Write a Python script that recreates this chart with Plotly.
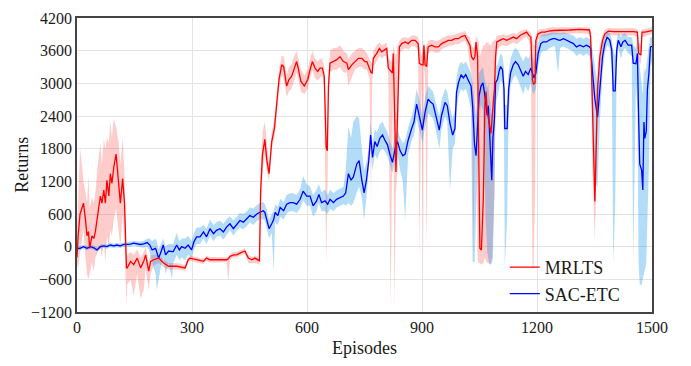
import plotly.graph_objects as go

# MRLTS: episode, mean return, lower / upper band
mrlts_ep = [
    0, 3, 8, 13, 17, 22, 26, 30, 33, 39,
    44, 48, 54, 61, 65, 70, 74, 78, 83, 87,
    91, 96, 102, 109, 113, 119, 124, 129, 131, 140,
    148, 157, 166, 174, 179, 187, 192, 200, 213, 226,
    239, 261, 282, 290, 295, 312, 330, 338, 347, 373,
    390, 395, 399, 408, 417, 425, 438, 447, 456, 464,
    476, 479, 484, 490, 495, 501, 508, 515, 521, 527,
    534, 539, 547, 553, 560, 564, 573, 578, 584, 593,
    602, 608, 614, 621, 628, 634, 640, 645, 650, 653,
    656, 660, 669, 677, 686, 695, 704, 708, 717, 725,
    734, 743, 751, 756, 763, 767, 770, 773, 782, 789,
    795, 801, 808, 812, 818, 823, 825, 828, 832, 837,
    841, 847, 856, 864, 873, 882, 890, 893, 899, 903,
    905, 908, 912, 916, 925, 934, 943, 951, 960, 969,
    977, 986, 995, 1003, 1012, 1019, 1025, 1029, 1034, 1038,
    1041, 1045, 1047, 1051, 1055, 1060, 1064, 1067, 1070, 1073,
    1077, 1080, 1083, 1089, 1092, 1095, 1103, 1112, 1121, 1130,
    1138, 1147, 1156, 1164, 1173, 1179, 1184, 1188, 1191, 1195,
    1197, 1203, 1212, 1221, 1230, 1243, 1260, 1286, 1312, 1337,
    1340, 1344, 1349, 1351, 1355, 1358, 1364, 1371, 1377, 1386,
    1399, 1417, 1434, 1451, 1462, 1465, 1471, 1474, 1482, 1491,
    1500,
]
mrlts_mean = [
    -200, 200, 600, 700, 800, 500, 200, 280, -30, 200,
    150, 280, 570, 930, 800, 1040, 800, 1220, 930, 1340,
    1160, 1460, 1700, 1150, 800, 1250, 800, -390, -390, -270,
    -330, -210, -390, -270, -150, -450, -270, -240, -210, -300,
    -360, -360, -390, -240, -210, -240, -270, -210, -240, -240,
    -240, -220, -180, -150, -150, -120, -80, -210, -240, -210,
    -260, 1000, 1700, 1970, 1600, 1340, 1930, 2170, 2590, 3070,
    3340, 3310, 2950, 3070, 3130, 3220, 3400, 3250, 3040, 2950,
    3070, 3250, 3400, 3280, 3220, 3280, 3280, 3130, 1820, 1760,
    2950, 3370, 3400, 3430, 3490, 3400, 3370, 3250, 3340, 3400,
    3460, 3460, 3400, 3400, 3280, 3200, 3190, 3460, 3550, 3640,
    3580, 3610, 3640, 3280, 3220, 3190, 3550, 2610, 1370, 2610,
    3670, 3730, 3760, 3730, 3790, 3790, 3730, 3370, 3340, 3340,
    3700, 3340, 3310, 3670, 3700, 3670, 3670, 3730, 3760, 3790,
    3790, 3820, 3820, 3860, 3880, 3790, 3700, 3490, 3430, 3490,
    3760, 3490, 2030, -30, -60, 900, 2610, 2850, 2490, 2370,
    2190, 2080, 2370, 2910, 3490, 3760, 3790, 3820, 3790, 3820,
    3850, 3820, 3880, 3910, 3940, 3880, 3850, 3070, 2980, 3010,
    3790, 3910, 3940, 3940, 3960, 3970, 3970, 3980, 3990, 3980,
    3850, 2610, 1040, 830, 1990, 2910, 3490, 3790, 3910, 3960,
    3950, 3950, 3960, 3950, 3940, 3550, 3520, 3940, 3940, 3960,
    3970,
]
mrlts_lo = [
    -300, -400, -100, 100, 300, -200, -500, -600, -500, -300,
    -450, -200, -100, 0, -200, 100, -300, 200, 0, 300,
    200, 500, 700, 200, 0, 600, 100, -1100, -700, -600,
    -900, -500, -950, -800, -400, -800, -500, -350, -300, -380,
    -420, -420, -440, -300, -260, -290, -320, -260, -290, -290,
    -280, -650, -250, -200, -200, -170, -130, -300, -300, -300,
    -330, 700, 1400, 1700, 1400, 1200, 1800, 2000, 2400, 2900,
    3150, 3100, 2750, 2850, 2900, 3000, 3200, 3050, 2850, 2800,
    2900, 3100, 3250, 3100, 3050, 3100, 3150, 2900, -330, 800,
    2700, 3200, 3250, 3250, 3300, 3200, 3200, 2950, 3100, 3250,
    3300, 3300, 3250, 3250, 3100, 800, 3000, 3300, 3400, 3500,
    3450, 3500, 3500, 3100, -1100, 2900, 3350, -1150, 1000, 1500,
    3550, 3600, 3650, 3620, 3680, 3680, 3600, -200, 3100, -200,
    3300, 3100, -100, 3550, 3600, 3560, 3560, 3620, 3660, 3690,
    3690, 3720, 3720, 3760, 3780, 3680, 3300, 3200, -100, 2000,
    3500, -200, -300, -300, -330, -300, -200, -250, -300, -300,
    -330, -300, -200, 1000, 3000, 3600, 3680, 3700, 3680, 3720,
    3750, 3720, 3780, 3820, 3850, 3780, 3700, -400, -400, 1000,
    3600, 3800, 3860, 3860, 3880, 3900, 3900, 3910, 3920, 3900,
    3600, 1500, 100, 90, 1300, 2400, 3200, 3600, 3820, 3890,
    3880, 3880, 3890, 3880, 3850, 3400, 3350, 3850, 3860, 3890,
    3900,
]
mrlts_hi = [
    300, 1000, 1800, 1500, 1200, 1000, 800, 1300, 700, 900,
    800, 1000, 1500, 1900, 1500, 2000, 1800, 2000, 1900, 2300,
    2000, 2350, 2200, 1900, 1500, 2000, 1300, -200, -150, -100,
    -150, -50, -200, -100, 0, -300, -150, -150, -150, -230,
    -300, -300, -340, -190, -160, -190, -220, -160, -190, -190,
    -200, -180, -130, -100, -100, -70, -30, -150, -190, -160,
    -200, 1400, 2100, 2300, 1900, 1500, 2100, 2350, 2800, 3250,
    3500, 3500, 3150, 3300, 3350, 3450, 3600, 3450, 3250, 3150,
    3250, 3450, 3600, 3450, 3400, 3450, 3450, 3300, 2100, 2000,
    3150, 3600, 3650, 3650, 3700, 3600, 3550, 3450, 3550, 3600,
    3650, 3650, 3600, 3550, 3450, 3400, 3350, 3600, 3700, 3750,
    3700, 3720, 3750, 3500, 3400, 3400, 3700, 3600, 3500, 3700,
    3780, 3830, 3850, 3830, 3880, 3880, 3850, 3700, 3500, 3700,
    3800, 3600, 3700, 3780, 3800, 3780, 3780, 3830, 3860, 3880,
    3880, 3900, 3910, 3940, 3960, 3880, 3850, 3700, 3650, 3700,
    3880, 3800, 3800, 3500, 3600, 3700, 3700, 3750, 3750, 3750,
    3700, 3700, 3750, 3800, 3800, 3880, 3880, 3900, 3880, 3900,
    3930, 3900, 3960, 3980, 4000, 3960, 3930, 3800, 3700, 3700,
    3900, 3980, 4000, 4000, 4020, 4030, 4030, 4040, 4040, 4030,
    3950, 3300, 2000, 1500, 2600, 3300, 3700, 3900, 3980, 4020,
    4010, 4010, 4020, 4010, 4000, 3750, 3700, 4000, 4000, 4020,
    4030,
]

# SAC-ETC: episode, mean return, lower / upper band
sac_ep = [
    0, 8, 17, 26, 35, 44, 52, 61, 70, 78,
    87, 96, 104, 113, 122, 130, 139, 148, 157, 165,
    174, 183, 190, 196, 205, 208, 213, 218, 225, 231,
    239, 248, 251, 260, 267, 273, 282, 290, 299, 305,
    312, 321, 330, 338, 347, 356, 364, 373, 382, 390,
    399, 408, 417, 425, 434, 443, 451, 460, 469, 477,
    486, 490, 495, 501, 508, 513, 517, 524, 530, 539,
    547, 556, 564, 573, 582, 590, 599, 608, 616, 625,
    631, 638, 647, 654, 660, 669, 677, 686, 695, 701,
    708, 715, 721, 730, 736, 743, 749, 755, 761, 766,
    771, 777, 783, 790, 797, 803, 810, 816, 823, 830,
    836, 843, 850, 856, 864, 873, 879, 886, 893, 901,
    908, 916, 923, 929, 936, 945, 951, 960, 966, 973,
    980, 986, 990, 995, 1002, 1008, 1014, 1021, 1028, 1032,
    1037, 1041, 1045, 1049, 1054, 1059, 1063, 1066, 1070, 1073,
    1075, 1079, 1082, 1085, 1089, 1092, 1097, 1101, 1105, 1110,
    1114, 1116, 1122, 1126, 1131, 1138, 1144, 1151, 1158, 1164,
    1170, 1177, 1184, 1188, 1192, 1197, 1203, 1210, 1216, 1225,
    1233, 1242, 1247, 1255, 1260, 1269, 1277, 1286, 1295, 1303,
    1312, 1321, 1329, 1337, 1340, 1345, 1351, 1358, 1364, 1371,
    1377, 1383, 1390, 1395, 1399, 1404, 1408, 1412, 1419, 1424,
    1430, 1438, 1447, 1451, 1458, 1462, 1465, 1468, 1473, 1476,
    1479, 1481, 1485, 1488, 1492, 1496, 1500,
]
sac_mean = [
    -30, -30, 0, -30, 0, -20, -60, 0, 15, 0,
    30, 15, 30, 15, 40, 40, 45, 65, 50, 40,
    50, 75, 30, -60, -30, -100, -210, -120, 30, -150,
    -80, -90, -90, 30, -60, 0, -30, 30, -60, 90,
    180, 180, 270, 180, 330, 240, 300, 330, 270, 360,
    420, 330, 420, 480, 450, 510, 570, 540, 600, 630,
    660, 630, 510, 330, 420, 500, 630, 570, 720, 660,
    780, 810, 810, 780, 870, 1020, 930, 930, 750, 840,
    960, 810, 840, 780, 870, 810, 870, 900, 930, 990,
    1340, 1220, 1280, 1520, 1580, 1220, 990, 1220, 1580, 2050,
    1640, 1930, 1840, 1990, 2050, 1960, 1870, 1700, 1550, 1810,
    1930, 1760, 1670, 1700, 1960, 2170, 2290, 2620, 2410, 2140,
    2470, 2710, 2650, 2620, 2410, 2140, 2410, 2650, 2590, 2260,
    2050, 2170, 2830, 3010, 3160, 3100, 3160, 3040, 2950, 2590,
    1880, 1670, 2170, 2770, 2950, 3010, 2830, 2590, 2410, 2590,
    2230, 1760, 1220, 1990, 2350, 3010, 3070, 3220, 3310, 3250,
    2890, 2170, 2170, 2890, 3190, 3340, 3400, 3340, 3220, 3130,
    3220, 3160, 3280, 3160, 3100, 3190, 3550, 3730, 3760, 3760,
    3800, 3820, 3820, 3800, 3790, 3820, 3790, 3760, 3730, 3670,
    3700, 3670, 3700, 3670, 3640, 3190, 2710, 2380, 2890, 3490,
    3730, 3850, 3790, 3610, 2860, 2860, 3610, 3790, 3670, 3760,
    3790, 3700, 3700, 3370, 3360, 3550, 2410, 1520, 1400, 1040,
    2290, 1990, 2110, 2890, 3190, 3670, 3680,
]
sac_lo = [
    -60, -70, -40, -70, -40, -60, -100, -40, -25, -40,
    -10, -25, -10, -25, 0, 0, 0, 20, 0, -10,
    -20, 0, -100, -300, -500, -800, -600, -400, -200, -500,
    -300, -600, -300, -150, -250, -200, -250, -150, -200, -50,
    50, 50, 150, 50, 200, 100, 180, 200, 130, 220,
    300, 200, 300, 350, 320, 380, 450, 400, 470, 500,
    500, 480, 350, 150, 250, -450, 450, 400, 550, 500,
    620, 650, 650, 620, 700, 850, 750, 750, 550, 650,
    800, 650, 650, 600, 700, 650, 720, 750, 780, 750,
    800, 750, 800, 1000, 1100, 900, 500, 900, 1350, 1800,
    1400, 1700, 1600, 1750, 1800, 1750, 1650, 1500, 1350, 1600,
    1700, 1400, 1200, 500, 1700, 1950, 2050, 2350, 2150, 1900,
    2200, 2450, 2400, 2350, 2150, 1800, 2150, 2400, 2300, 1040,
    1800, 1900, 2500, 2750, 2900, 2850, 2900, 2750, 2500, -270,
    -300, 500, 1500, 2300, 2600, 2500, 1500, 500, -100, -250,
    -300, -330, -300, -200, 1000, 2600, 2800, 2950, 3050, 3000,
    2000, -390, 500, 2400, 2950, 3100, 3150, 3050, 2900, 2800,
    2950, 2850, 3000, 2850, 2800, 2900, 3300, 3550, 3600, 3600,
    3650, 3680, 3680, 3180, 3650, 3680, 3650, 3620, 3580, 3500,
    3550, 3500, 3550, 3500, 3400, 2500, 1200, 1100, 2300, 3200,
    3550, 3700, 3650, 3300, -330, 800, 3350, 3650, 3450, 3600,
    3650, 3550, 3500, -270, 3000, 2500, -300, -700, -700, -600,
    -500, -400, -300, 500, 1500, 3300, 3400,
]
sac_hi = [
    0, 10, 40, 10, 40, 20, -20, 40, 55, 40,
    70, 55, 70, 55, 80, 80, 90, 110, 100, 90,
    110, 150, 150, 100, 150, 100, -50, 50, 150, 0,
    50, 50, 50, 250, 100, 150, 150, 200, 100, 250,
    350, 350, 400, 330, 500, 400, 450, 480, 420, 500,
    560, 480, 560, 620, 600, 650, 720, 700, 760, 800,
    820, 780, 680, 500, 600, 650, 780, 730, 880, 820,
    950, 980, 980, 950, 1050, 1300, 1150, 1100, 950, 1050,
    1150, 1000, 1050, 950, 1050, 980, 1030, 1060, 1100, 1400,
    2200, 2000, 2300, 2400, 2350, 1800, 1400, 1550, 1800, 2300,
    1900, 2150, 2100, 2250, 2300, 2200, 2100, 1950, 1800, 2050,
    2150, 2000, 1900, 1950, 2200, 2400, 2550, 2900, 2700, 2400,
    2750, 2950, 2900, 2850, 2650, 2400, 2700, 2900, 2850, 2550,
    2350, 2500, 3100, 3300, 3400, 3350, 3400, 3300, 3200, 3000,
    2700, 2400, 2800, 3200, 3250, 3300, 3100, 3000, 2900, 3000,
    2800, 2600, 2400, 2700, 2900, 3300, 3350, 3450, 3550, 3500,
    3300, 2600, 2600, 3200, 3450, 3600, 3650, 3600, 3500, 3400,
    3500, 3450, 3550, 3450, 3400, 3500, 3750, 3880, 3900, 3900,
    3930, 3940, 3940, 3930, 3920, 3940, 3920, 3900, 3880, 3820,
    3850, 3820, 3850, 3820, 3800, 3600, 3300, 3000, 3300, 3700,
    3880, 3950, 3920, 3800, 3600, 3500, 3800, 3920, 3850, 3900,
    3920, 3850, 3850, 3700, 3650, 3800, 3600, 3300, 3000, 2800,
    3300, 3200, 3300, 3500, 3700, 3850, 3850,
]

RED = "#ff0000"
BLUE = "#0000ff"
RED_FILL = "rgba(255,0,0,0.2)"
BLUE_FILL = "rgba(0,140,230,0.3)"
FONT = "Liberation Serif, Times New Roman, serif"
TEXT = "#1a1a1a"

fig = go.Figure()

# shaded bands (lower bound first, upper bound filled down to it)
for ep, lo, hi, fill in [
    (mrlts_ep, mrlts_lo, mrlts_hi, RED_FILL),
    (sac_ep, sac_lo, sac_hi, BLUE_FILL),
]:
    fig.add_trace(go.Scatter(x=ep, y=lo, mode="lines", line=dict(width=0),
                             showlegend=False, hoverinfo="skip"))
    fig.add_trace(go.Scatter(x=ep, y=hi, mode="lines", line=dict(width=0),
                             fill="tonexty", fillcolor=fill,
                             showlegend=False, hoverinfo="skip"))

fig.add_trace(go.Scatter(x=sac_ep, y=sac_mean, mode="lines", name="SAC-ETC",
                         line=dict(color=BLUE, width=1.3), legendrank=2))
fig.add_trace(go.Scatter(x=mrlts_ep, y=mrlts_mean, mode="lines", name="MRLTS",
                         line=dict(color=RED, width=1.3), legendrank=1))

axis_common = dict(
    showline=True, mirror=True, linecolor="#444444", linewidth=1.5,
    showgrid=True, gridcolor="#e3e3e3", gridwidth=1,
    zeroline=False, ticks="",
    tickfont=dict(family=FONT, size=16, color=TEXT),
)

fig.update_layout(
    width=691, height=366,
    margin=dict(l=77, r=39, t=10, b=54),
    paper_bgcolor="white", plot_bgcolor="white",
    font=dict(family=FONT, color=TEXT),
    xaxis=dict(range=[0, 1500], tickmode="linear", tick0=0, dtick=300,
               title=dict(text="Episodes", font=dict(family=FONT, size=18, color=TEXT),
                          standoff=6),
               **axis_common),
    yaxis=dict(range=[-1200, 4200], tickmode="linear", tick0=-1200, dtick=600,
               **axis_common),
    legend=dict(x=0.744, y=0.0, xanchor="left", yanchor="bottom",
                traceorder="normal",
                bgcolor="rgba(0,0,0,0)", borderwidth=0,
                font=dict(family=FONT, size=18, color=TEXT),
                tracegroupgap=0),
    annotations=[dict(text="Returns", textangle=-90, showarrow=False,
                      xref="paper", yref="paper", x=-0.096, y=0.5,
                      xanchor="center", yanchor="middle",
                      font=dict(family=FONT, size=18, color=TEXT))],
)

fig.write_html("out.html")
